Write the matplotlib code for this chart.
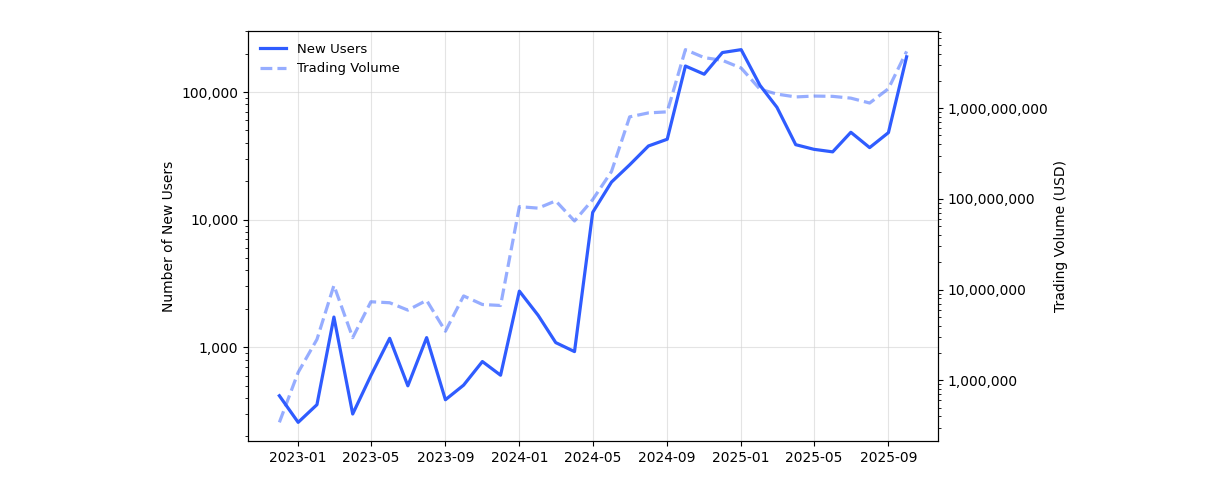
import matplotlib
matplotlib.use("Agg")
import matplotlib.pyplot as plt
import matplotlib.dates as mdates
import matplotlib.ticker as mticker
import pandas as pd

months = pd.date_range("2022-12-01", "2025-10-01", freq="MS")

new_users = [417, 258, 355, 1725, 300, 600, 1175, 499, 1190, 388, 505, 773,
             604, 2755, 1780, 1088, 925, 11400, 19700, 26900, 37800, 42700,
             160000, 138000, 204000, 215000, 113000, 76000, 38700, 35600,
             34000, 48400, 36700, 48100, 189000]

trading_volume = [3.43e5, 1.22e6, 2.82e6, 1.11e7, 2.95e6, 7.33e6, 7.15e6,
                  5.93e6, 7.6e6, 3.47e6, 8.5e6, 6.84e6, 6.67e6, 8.2e7, 7.9e7,
                  9.5e7, 5.7e7, 9.8e7, 2.0e8, 8.02e8, 8.87e8, 9.11e8, 4.42e9,
                  3.61e9, 3.37e9, 2.77e9, 1.62e9, 1.43e9, 1.33e9, 1.36e9,
                  1.35e9, 1.29e9, 1.14e9, 1.64e9, 4.23e9]

plt.rcParams["font.size"] = 10

fig, ax = plt.subplots(figsize=(12.29, 4.97), dpi=100)
fig.subplots_adjust(left=0.2018, right=0.7632, top=0.9376, bottom=0.1127)

color = "#2f5cff"
l1, = ax.plot(months, new_users, color=color, linewidth=2.3, label="New Users")
ax.set_yscale("log")
ax.set_ylabel("Number of New Users")
ax.yaxis.set_major_formatter(mticker.FuncFormatter(lambda v, p: f"{v:,.0f}"))
ax.grid(True, which="major", color="lightgrey", alpha=0.6, linewidth=0.8)

ax2 = ax.twinx()
l2, = ax2.plot(months, trading_volume, color=color, alpha=0.5, linewidth=2.3,
               linestyle="--", label="Trading Volume")
ax2.set_yscale("log")
ax2.set_ylabel("Trading Volume (USD)")
ax2.yaxis.set_major_formatter(mticker.FuncFormatter(lambda v, p: f"{v:,.0f}"))

ax.xaxis.set_major_locator(mdates.MonthLocator(bymonth=[1, 5, 9]))
ax.xaxis.set_major_formatter(mdates.DateFormatter("%Y-%m"))

ax.legend(handles=[l1, l2], loc="upper left", frameon=False, fontsize=9.5)

fig.savefig("out.png", dpi=100)
